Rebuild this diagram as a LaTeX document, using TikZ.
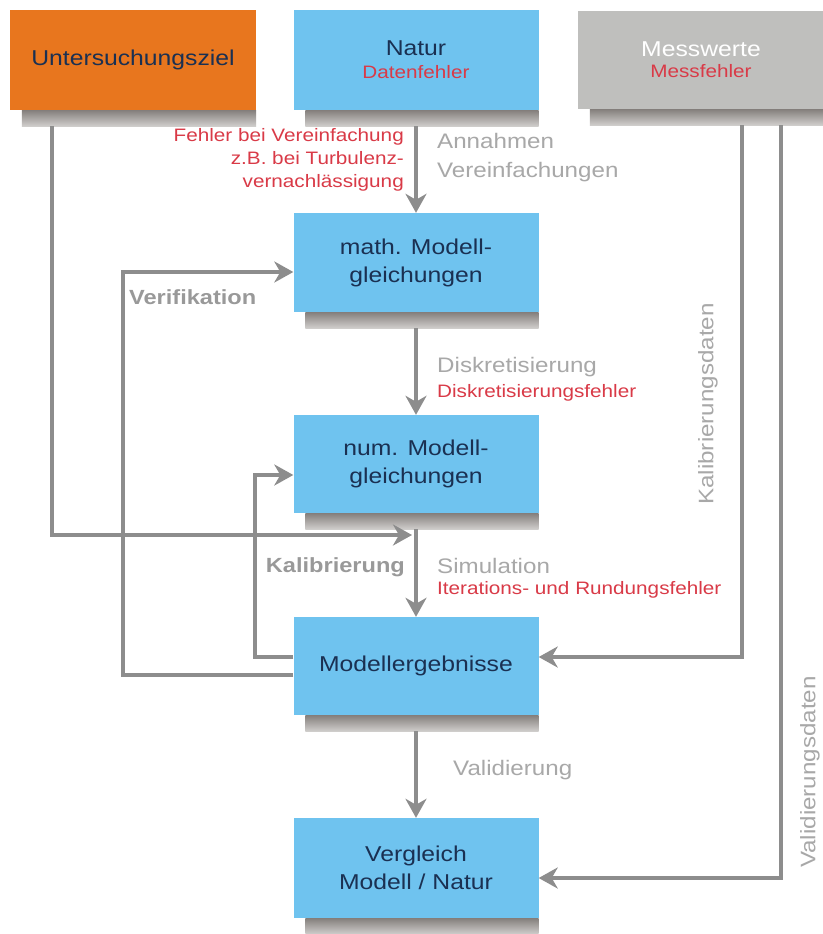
\documentclass[tikz,border=0pt]{standalone}
\usepackage{fontspec}
\setmainfont[FakeStretch=1.15]{Liberation Sans}
\usetikzlibrary{arrows.meta,calc}
\definecolor{boxblue}{HTML}{6FC3EF}
\definecolor{boxorange}{HTML}{E8761E}
\definecolor{boxgray}{HTML}{BFBFBD}
\definecolor{navy}{HTML}{1A3052}
\definecolor{errred}{HTML}{D93A47}
\definecolor{lblgray}{HTML}{A8A8A8}
\definecolor{lbldark}{HTML}{999999}
\definecolor{arrgray}{HTML}{8D8D8D}
\definecolor{shadowtop}{HTML}{847F7C}
\definecolor{shadowbot}{HTML}{D0CECC}
\tikzset{
  box/.style={rectangle, minimum width=245pt, minimum height=99pt, inner sep=0pt,
    fill=boxblue, text=navy, align=center, font=\fontsize{21.5}{28}\selectfont},
  redtxt/.style={text=errred, font=\fontsize{18}{23}\selectfont, inner sep=0pt},
  graytxt/.style={text=lblgray, font=\fontsize{21}{29}\selectfont, inner sep=0pt},
  darktxt/.style={text=lbldark, font=\bfseries\fontsize{20.5}{24}\selectfont, inner sep=0pt},
  arr/.style={draw=arrgray, line width=3.5pt, -{Stealth[length=19pt,width=21pt,inset=6pt]}},
  ln/.style={draw=arrgray, line width=3.5pt}
}
\newcommand{\boxshadow}[1]{%
  \shade[top color=shadowtop, bottom color=shadowbot]
    ($(#1.south west)+(12,0)$) rectangle ($(#1.south east)+(0,16)$);}
\begin{document}
\begin{tikzpicture}[x=1pt,y=-1pt]
\useasboundingbox (0,0) rectangle (822,934);
\fill[white] (0,0) rectangle (822,934);

% nodes
\node[box, fill=boxorange, minimum width=246pt, minimum height=100pt] (ziel) at (133,60) {Untersuchungsziel};
\node[box, minimum height=100pt] (natur) at (416,60) {Natur\\[-5pt]{\color{errred}\fontsize{18}{20}\selectfont Datenfehler}};
\node[box, fill=boxgray, text=white, minimum width=246pt, minimum height=98pt] (mess) at (701,60) {Messwerte\\[-7pt]{\color{errred}\fontsize{18}{20}\selectfont Messfehler}};
\node[box] (math) at (416,262.5) {math. Modell-\\gleichungen};
\node[box, minimum height=98pt] (num) at (416,464) {num. Modell-\\gleichungen};
\node[box, minimum height=98pt] (erg) at (416,666) {Modellergebnisse};
\node[box, minimum height=100pt] (vgl) at (416,868) {Vergleich\\Modell / Natur};

% shadows
\boxshadow{ziel}
\boxshadow{natur}
\boxshadow{mess}
\boxshadow{math}
\boxshadow{num}
\boxshadow{erg}
\boxshadow{vgl}

% coordinates
\coordinate (zc) at (52,535);
\coordinate (zj) at (412,535);
\coordinate (v1) at (123,675);
\coordinate (v2) at (123,272);
\coordinate (k1) at (255,657);
\coordinate (k2) at (255,475);
\coordinate (m1) at (742,657);
\coordinate (m2) at (781,878);

% connectors
\draw[arr] ($(natur.south)+(0,16)$) -- (math.north);
\draw[arr] ($(math.south)+(0,16)$) -- (num.north);
\draw[arr] ($(num.south)+(0,16)$) -- (erg.north);
\draw[arr] ($(erg.south)+(0,16)$) -- (vgl.north);
\draw[arr] ($(ziel.south -| zc)+(0,16)$) -- (zc) -- (zj);
\draw[arr] (erg.west |- v1) -- (v1) -- (v2) -- (math.west |- v2);
\draw[arr] (erg.west |- k1) -- (k1) -- (k2) -- (num.west |- k2);
\draw[arr] ($(mess.south -| m1)+(0,16)$) -- (m1) -- (erg.east |- m1);
\draw[arr] ($(mess.south -| m2)+(0,16)$) -- (m2) -- (vgl.east |- m2);

% labels
\node[redtxt, align=right, anchor=east] (l1) at (404,160) {Fehler bei Vereinfachung\\z.B. bei Turbulenz-\\vernachlässigung};
\node[graytxt, align=left, anchor=west] (l2) at (437,158) {Annahmen\\Vereinfachungen};
\node[darktxt, anchor=west] (l3) at (129,297) {Verifikation};
\node[graytxt, anchor=west] (l4) at (437,367) {Diskretisierung};
\node[redtxt, anchor=west] (l5) at (437,393) {Diskretisierungsfehler};
\node[darktxt, anchor=east] (l6) at (405,567) {Kalibrierung};
\node[graytxt, anchor=west] (l7) at (437,566) {Simulation};
\node[redtxt, anchor=west] (l8) at (437,590) {Iterations- und Rundungsfehler};
\node[graytxt, anchor=west] (l9) at (453,770) {Validierung};
\node[graytxt, rotate=90] (l10) at (708,404) {Kalibrierungsdaten};
\node[graytxt, rotate=90] (l11) at (810,772) {Validierungsdaten};
\end{tikzpicture}
\end{document}
